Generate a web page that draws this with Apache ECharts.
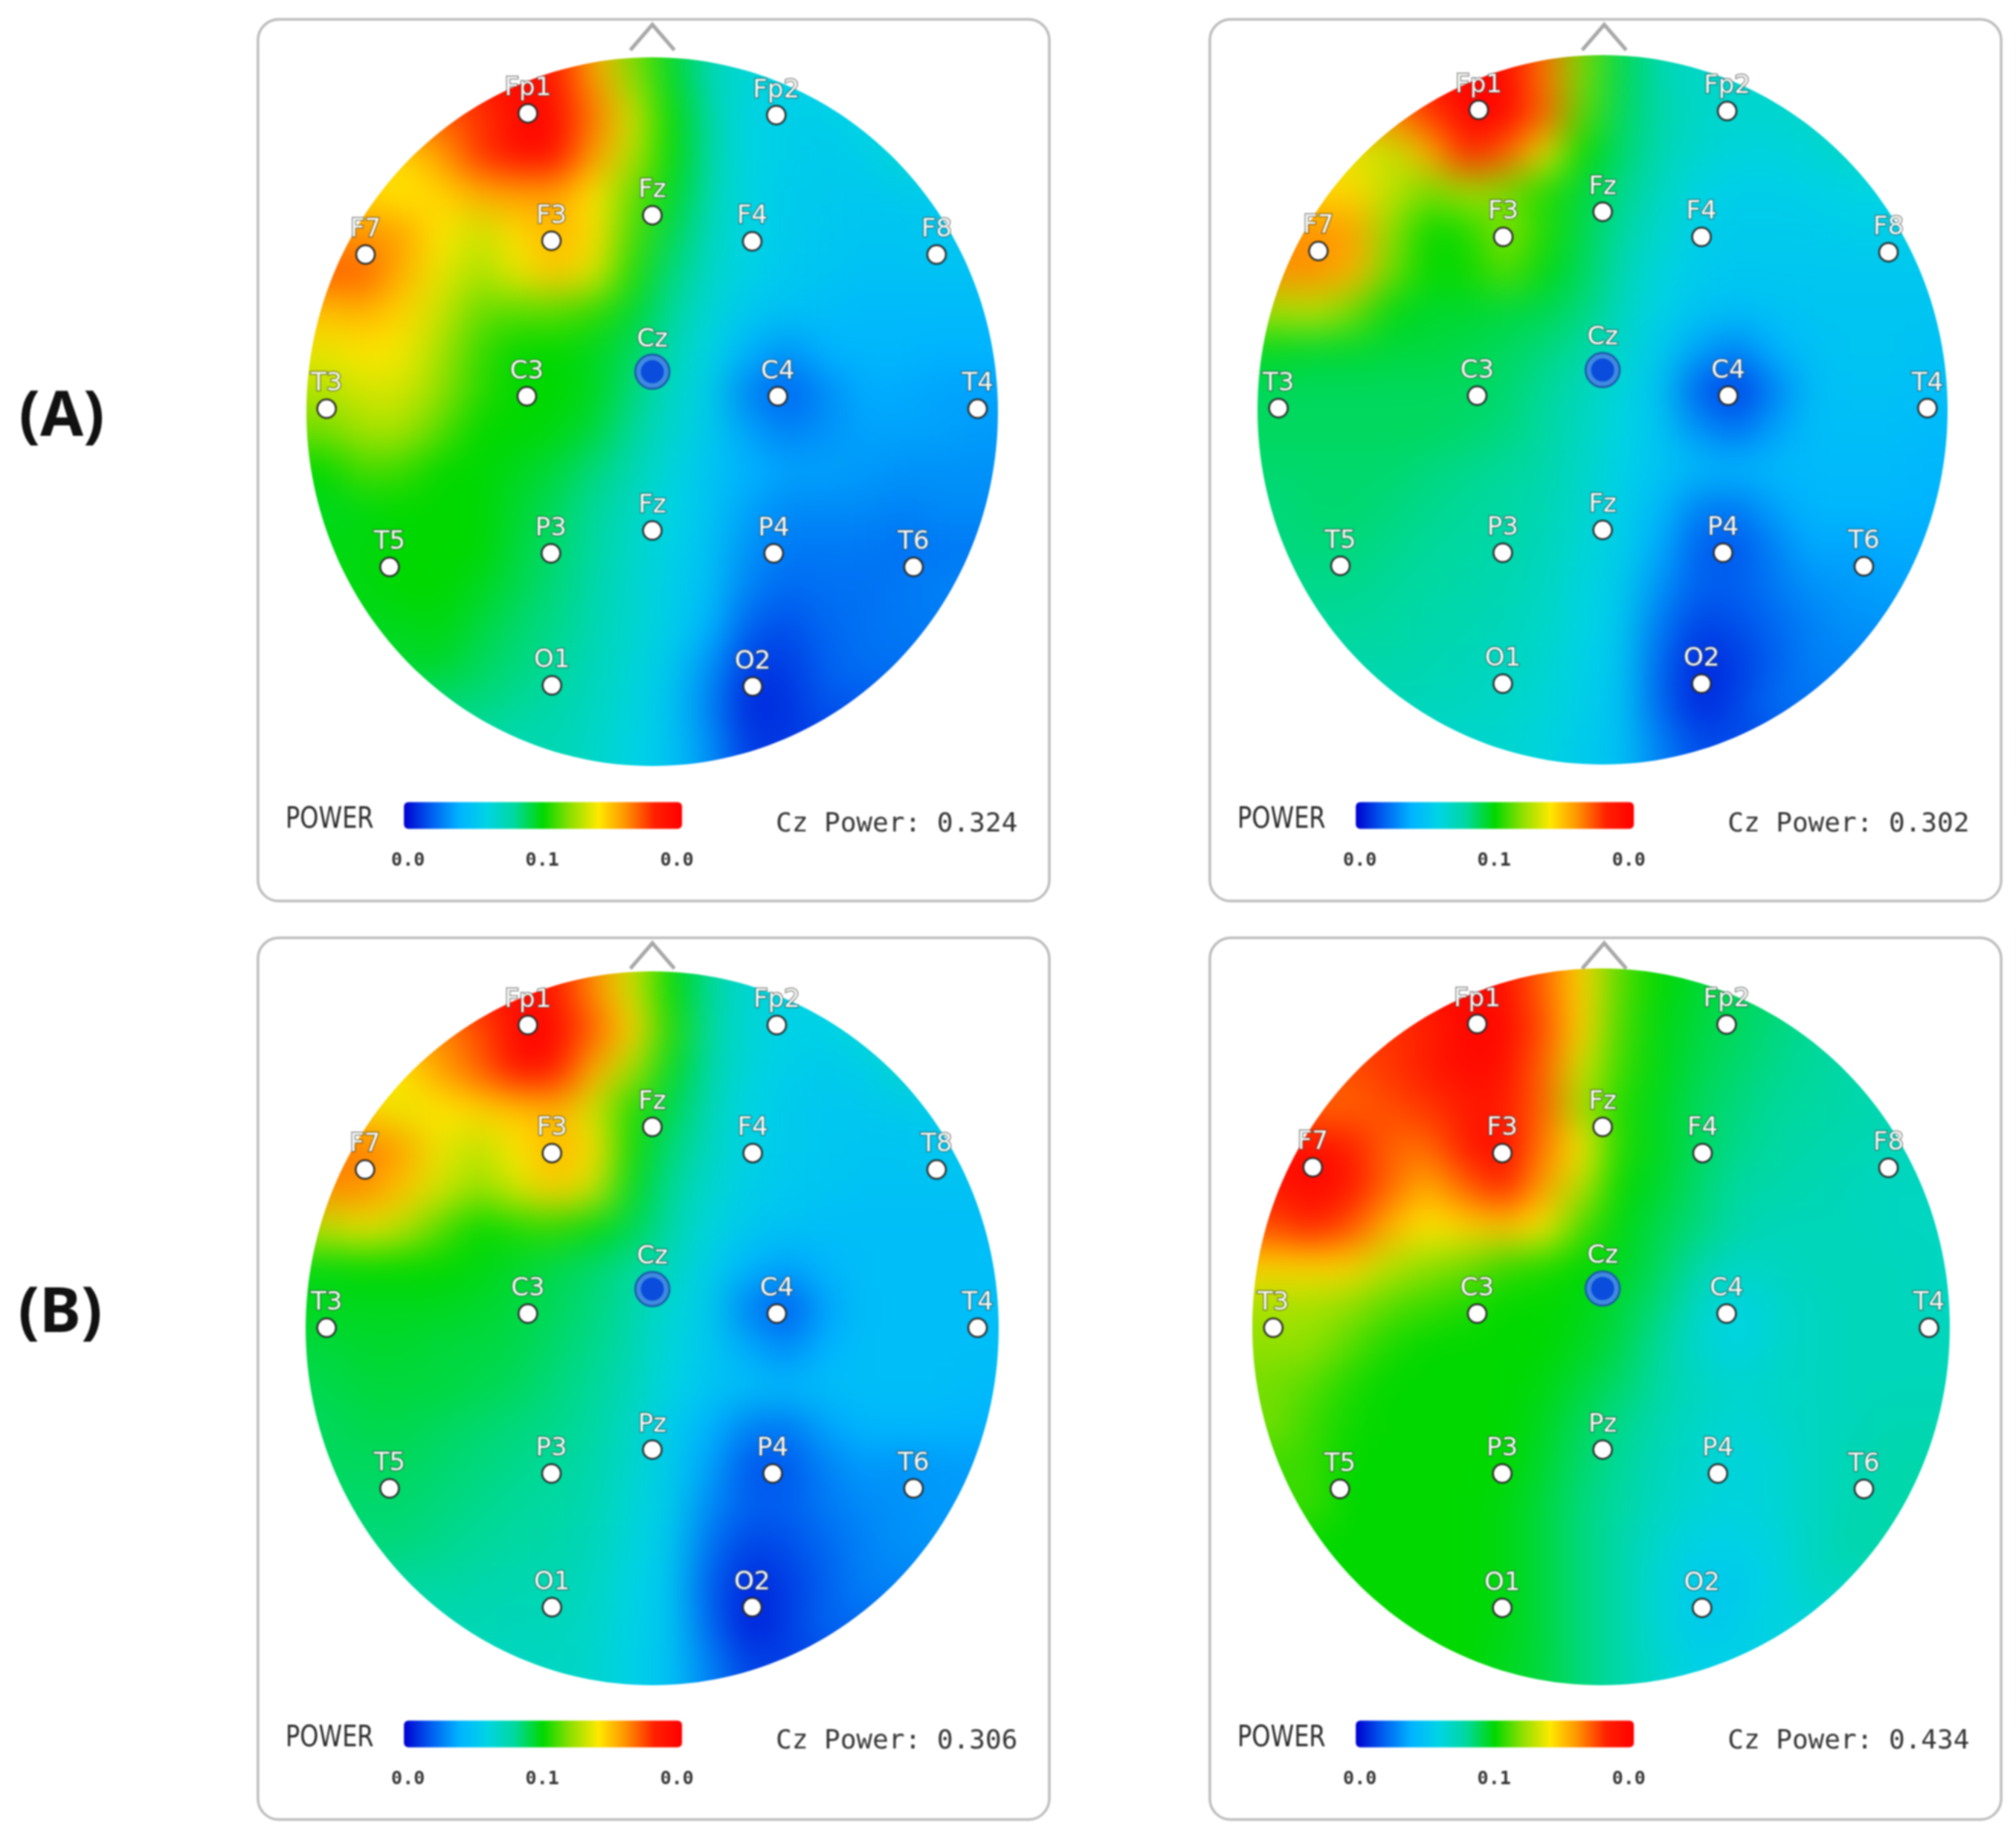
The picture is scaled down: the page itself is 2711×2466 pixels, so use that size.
<!DOCTYPE html>
<html><head><meta charset="utf-8">
<script src="https://cdn.jsdelivr.net/npm/echarts@6/dist/echarts.min.js"></script>
<style>
html,body{margin:0;padding:0;background:#fff;width:2711px;height:2466px;overflow:hidden}
#field,#top{position:absolute;left:0;top:0;width:2711px;height:2466px}
#field{filter:blur(25px);clip-path:inset(40px 0 0 0)}
#top{filter:blur(0.8px)}
</style></head><body>
<div id="field"></div><div id="top"></div>
<script>
const _ = null;
// Power level on a 20x20 sampling of each head (0 = blue end, 100 = red end of the bar)
const powerTopLeft = [
[_,_,_,_,_,_,94,90,75,58,48,36,32,30,_,_,_,_,_,_],
[_,_,_,_,_,92,98,92,78,60,48,36,32,30,30,30,_,_,_,_],
[_,_,_,_,84,88,97,97,82,66,50,38,30,28,28,30,32,_,_,_],
[_,_,_,72,78,88,97,96,78,64,50,38,30,28,27,28,32,32,_,_],
[_,_,72,70,72,76,78,78,70,57,48,37,30,27,27,26,27,27,27,_],
[_,80,80,78,70,65,71,76,71,55,45,35,30,27,26,25,25,26,26,_],
[84,84,84,76,68,62,68,74,67,52,42,34,29,26,25,24,24,24,24,24],
[74,74,76,72,65,57,56,56,53,47,40,32,26,24,23,22,22,22,22,22],
[68,68,70,69,62,54,50,50,48,44,37,30,20,16,20,21,21,20,20,20],
[63,63,66,66,60,53,50,50,48,42,34,28,14,10,15,19,19,18,18,18],
[58,58,62,62,56,50,50,49,46,40,33,27,18,14,16,18,18,18,17,17],
[50,50,55,54,50,50,48,46,42,37,31,25,20,18,18,17,16,16,16,16],
[48,48,49,50,50,50,47,44,40,35,30,25,18,15,15,15,14,15,15,15],
[_,49,49,50,50,50,46,43,39,34,29,24,16,13,13,13,12,13,13,_],
[_,49,49,50,50,48,45,42,38,33,28,23,14,11,12,12,13,14,14,_],
[_,_,48,48,49,46,43,41,37,33,28,20,10,8,11,12,13,13,_,_],
[_,_,_,47,47,44,42,40,36,32,26,16,6,6,10,12,12,_,_,_],
[_,_,_,_,42,42,40,38,35,31,25,14,4,5,9,9,_,_,_,_],
[_,_,_,_,_,_,37,37,34,30,25,16,6,6,_,_,_,_,_,_],
[_,_,_,_,_,_,_,37,34,30,25,16,6,_,_,_,_,_,_,_]];
const powerTopRight = [
[_,_,_,_,_,_,96,96,84,58,45,37,34,33,_,_,_,_,_,_],
[_,_,_,_,_,92,98,97,82,58,45,37,34,33,33,33,_,_,_,_],
[_,_,_,_,80,88,99,99,84,56,44,38,34,33,33,34,34,_,_,_],
[_,_,_,68,64,76,90,84,68,50,43,37,33,31,31,32,34,34,_,_],
[_,_,72,72,64,58,62,58,52,46,41,35,30,28,28,29,30,30,30,_],
[_,80,80,78,60,50,52,60,52,45,39,33,28,27,27,27,28,28,28,_],
[80,80,80,76,58,50,51,56,49,44,37,31,27,26,26,26,26,26,26,26],
[64,62,64,58,49,47,47,46,45,42,35,29,25,23,24,25,25,25,25,25],
[48,48,47,47,46,46,45,44,42,39,33,27,18,14,20,24,25,25,24,24],
[44,44,44,44,44,44,44,43,40,36,31,25,10,6,14,23,24,24,23,23],
[44,44,44,44,44,44,43,42,39,35,30,25,16,12,18,23,23,23,22,22],
[43,43,43,43,43,42,41,40,38,34,29,25,22,21,22,22,22,22,21,21],
[42,42,43,43,42,41,40,39,37,33,28,22,14,13,18,21,21,21,20,20],
[_,42,42,42,41,40,39,38,36,32,28,19,10,9,14,19,18,19,19,_],
[_,41,41,41,40,39,38,37,35,31,27,16,10,10,13,16,17,18,18,_],
[_,_,40,40,39,38,37,36,34,30,26,13,7,8,11,14,16,16,_,_],
[_,_,_,38,38,37,36,35,33,29,25,11,4,6,10,14,14,_,_,_],
[_,_,_,_,36,36,35,34,32,28,24,11,4,7,12,12,_,_,_,_],
[_,_,_,_,_,_,33,33,31,27,24,14,8,8,_,_,_,_,_,_],
[_,_,_,_,_,_,_,33,31,27,24,14,8,_,_,_,_,_,_,_]];
const powerBottomLeft = [
[_,_,_,_,_,_,94,92,80,66,50,40,32,30,_,_,_,_,_,_],
[_,_,_,_,_,90,96,92,80,66,50,40,32,30,30,30,_,_,_,_],
[_,_,_,_,80,86,98,98,84,72,52,39,32,29,29,32,32,_,_,_],
[_,_,_,70,78,84,96,92,76,62,48,38,31,28,27,28,33,33,_,_],
[_,_,72,68,70,72,74,76,66,52,45,36,30,27,26,26,27,27,27,_],
[_,82,82,78,68,64,70,76,71,51,42,35,29,27,26,25,25,26,26,_],
[80,80,80,74,66,60,66,73,65,48,40,33,28,26,25,24,24,24,24,24],
[64,64,68,64,56,50,52,53,49,45,38,31,26,24,23,23,23,23,23,23],
[49,49,50,50,50,49,47,45,43,40,35,28,20,18,21,23,23,23,23,23],
[48,48,48,48,48,47,46,44,42,38,32,27,14,9,18,23,23,23,23,23],
[46,46,47,47,46,46,45,43,41,37,31,26,19,15,20,23,23,23,23,23],
[45,45,46,46,46,45,44,42,40,36,30,25,23,22,23,23,23,23,22,22],
[44,44,45,45,44,43,42,41,39,34,27,20,14,13,18,21,21,21,20,20],
[_,44,44,44,43,42,41,40,38,33,27,18,9,9,14,17,16,17,17,_],
[_,43,43,43,42,41,40,39,37,32,27,15,10,10,13,15,16,17,17,_],
[_,_,42,42,41,40,39,38,36,31,26,12,7,8,11,14,16,16,_,_],
[_,_,_,39,39,38,37,37,35,30,25,10,4,6,10,14,14,_,_,_],
[_,_,_,_,37,37,36,36,34,29,25,11,3,6,11,11,_,_,_,_],
[_,_,_,_,_,_,35,35,33,29,24,14,7,7,_,_,_,_,_,_],
[_,_,_,_,_,_,_,35,33,29,24,14,7,_,_,_,_,_,_,_]];
const powerBottomRight = [
[_,_,_,_,_,_,97,96,84,72,56,50,47,44,_,_,_,_,_,_],
[_,_,_,_,_,94,98,96,84,72,56,50,47,44,43,42,_,_,_,_],
[_,_,_,_,88,90,98,98,86,72,55,49,46,44,42,40,40,_,_,_],
[_,_,_,86,88,92,97,96,84,66,54,49,45,43,41,40,38,38,_,_],
[_,_,84,84,86,88,92,92,84,62,52,48,44,42,40,39,38,37,37,_],
[_,96,96,92,84,83,92,98,82,70,52,48,44,41,39,38,37,36,36,_],
[92,92,98,94,84,76,84,90,78,64,50,47,43,39,38,37,36,35,35,35],
[86,86,90,86,76,70,72,74,70,55,49,45,42,38,36,36,36,35,35,35],
[72,72,72,72,64,60,58,54,52,50,48,44,38,34,35,36,36,36,35,35],
[62,62,62,60,56,54,52,50,50,49,46,42,34,30,33,35,36,36,35,35],
[60,60,60,56,52,50,50,50,50,48,45,40,33,30,33,35,36,36,36,36],
[58,58,56,52,50,50,50,50,49,46,43,39,35,33,34,35,36,36,36,36],
[58,58,54,51,50,50,50,50,48,44,41,37,34,32,33,35,36,37,37,37],
[_,54,54,50,50,50,50,50,47,43,40,36,33,31,32,35,37,38,38,_],
[_,54,54,50,50,50,50,49,46,42,39,35,32,31,32,35,37,38,38,_],
[_,_,50,50,50,50,50,49,46,42,38,33,29,29,31,35,38,38,_,_],
[_,_,_,50,50,50,50,49,46,42,38,32,27,27,30,35,35,_,_,_],
[_,_,_,_,50,50,50,49,46,42,38,32,27,28,31,31,_,_,_,_],
[_,_,_,_,_,_,50,48,46,42,38,33,29,29,_,_,_,_,_,_],
[_,_,_,_,_,_,_,48,46,42,38,33,29,_,_,_,_,_,_,_]];

const barColors = ['#0000d0','#0060f0','#00b4ff','#00d4e4','#00d89c','#00d800','#90e000','#ffe800','#ff9000','#ff2000','#ff0000'];
const tickLabels = ['0.0','0.1','0.0'];
const czPower = ['Cz Power: 0.324','Cz Power: 0.302','Cz Power: 0.306','Cz Power: 0.434'];
const groupNames = ['(A)','(B)'];

const namesTopLeft     = ['Fp1','Fp2','F7','F3','Fz','F4','F8','T3','C3','C4','T4','T5','P3','Fz','P4','T6','O1','O2'];
const namesTopRight    = namesTopLeft;
const namesBottomLeft  = ['Fp1','Fp2','F7','F3','Fz','F4','T8','T3','C3','C4','T4','T5','P3','Pz','P4','T6','O1','O2'];
const namesBottomRight = ['Fp1','Fp2','F7','F3','Fz','F4','F8','T3','C3','C4','T4','T5','P3','Pz','P4','T6','O1','O2'];
// electrode places, read in each panel's own 0-1568 frame
const siteXTopLeft  = [537,1022,220,583,780,975,1335,144,535,1025,1415,267,582,780,1017,1290,584,976];
const siteYTopLeft  = [173,176,421,397,352,398,421,692,670,670,692,970,946,906,946,970,1178,1180];
const siteXTopRight = [535,1020,222,583,777,970,1335,144,532,1022,1411,265,582,777,1012,1287,582,970];
const siteYTopRight = [167,169,415,390,346,390,417,691,669,669,691,968,945,905,945,969,1175,1175];
const siteXBottomLeft = [537,1023,219,584,780,976,1335,144,537,1023,1415,267,583,780,1015,1290,584,975];
const siteYBottomLeft = [161,161,415,386,340,386,415,693,668,668,693,975,949,907,949,975,1184,1184];
const siteXBottomRight = [532,1019,211,581,777,972,1335,134,532,1019,1414,264,581,777,1002,1287,581,971];
const siteYBottomRight = [159,160,411,386,340,386,412,693,668,668,693,976,949,907,949,976,1185,1185];
const czX = [780,777,780,777];
const czY = [627,624,625,624];

const panels = [
 {left:340, top:20,  cx:877,  cy:553.5,rx:465,ry:476.5,power:powerTopLeft,    names:namesTopLeft,    xs:siteXTopLeft,    ys:siteYTopLeft},
 {left:1620,top:20,  cx:2155, cy:551,  rx:464,ry:477,  power:powerTopRight,   names:namesTopRight,   xs:siteXTopRight,   ys:siteYTopRight},
 {left:340, top:1255,cx:877,  cy:1786, rx:466,ry:480,  power:powerBottomLeft, names:namesBottomLeft, xs:siteXBottomLeft, ys:siteYBottomLeft},
 {left:1620,top:1255,cx:2153, cy:1784, rx:469,ry:482,  power:powerBottomRight,names:namesBottomRight,xs:siteXBottomRight,ys:siteYBottomRight}
];
const SX = 1080/1568, SY = 1200/1568;

// ---------- blurred colour field ----------
const idx = Array.from({length:20},(_v,i)=>i);
const fieldOpt = {animation:false,grid:[],xAxis:[],yAxis:[],series:[],
  visualMap:{show:false,min:0,max:100,seriesIndex:[0,1,2,3],inRange:{color:barColors}}};
panels.forEach((p,k)=>{
  fieldOpt.grid.push({left:p.cx-p.rx*20/18,top:p.cy-p.ry*20/18,width:p.rx*40/18,height:p.ry*40/18});
  fieldOpt.xAxis.push({type:'category',data:idx,gridIndex:k,show:false});
  fieldOpt.yAxis.push({type:'category',data:idx,gridIndex:k,show:false,inverse:true});
  const d=[];
  p.power.forEach((row,j)=>{
    // cells outside the head carry the nearest read value of the row; the mask hides them
    const filled=row.map((v,i)=>{
      if(v!==null) return v;
      for(let s=1;s<20;s++){ if(row[i+s]!=null) return row[i+s]; if(row[i-s]!=null) return row[i-s]; }
      return null;
    });
    filled.forEach((v,i)=>d.push([i,j,v]));
  });
  fieldOpt.series.push({type:'heatmap',xAxisIndex:k,yAxisIndex:k,data:d,silent:true,progressive:0,itemStyle:{borderWidth:0}});
});
echarts.init(document.getElementById('field')).setOption(fieldOpt);

// ---------- everything on top ----------
const gfx = [];
const topOpt = {animation:false,grid:[],xAxis:[],yAxis:[],series:[],graphic:{elements:gfx}};
const siteLabel = {show:true,position:'inside',formatter:'{b}',fontFamily:'DejaVu Sans',fontSize:34,
  color:'#f6faf6',textBorderColor:'rgba(70,70,70,0.7)',textBorderWidth:2.5};
panels.forEach((p,k)=>{
  const X=z=>p.left+z*SX, Y=z=>p.top+z*SY;
  topOpt.grid.push({left:p.left,top:p.top,width:1080,height:1200});
  topOpt.xAxis.push({type:'value',min:0,max:1568,gridIndex:k,show:false});
  topOpt.yAxis.push({type:'value',min:0,max:1568,gridIndex:k,show:false,inverse:true});
  topOpt.series.push({type:'scatter',xAxisIndex:k,yAxisIndex:k,silent:true,z:5,symbolSize:25,
    itemStyle:{color:'#fff',borderColor:'#2b2b2b',borderWidth:2.5,opacity:1},
    label:Object.assign({offset:[0,-33]},siteLabel),
    data:p.names.map((n,i)=>({name:n,value:[p.xs[i],p.ys[i]]}))});
  topOpt.series.push({type:'scatter',xAxisIndex:k,yAxisIndex:k,silent:true,z:5,symbolSize:46,
    itemStyle:{color:'#3f8ae0',borderColor:'#1b55a8',borderWidth:2.5,opacity:1},
    label:Object.assign({offset:[0,-43]},siteLabel),
    data:[{name:'Cz',value:[czX[k],czY[k]]}]});
  topOpt.series.push({type:'scatter',xAxisIndex:k,yAxisIndex:k,silent:true,z:6,symbolSize:31,
    itemStyle:{color:'#0a4cdc',opacity:1},data:[[czX[k],czY[k]]]});

  // white mask with the head cut out, so the field ends on the head outline
  const x0=p.left-80,y0=p.top-70,x1=p.left+1160,y1=p.top+1245;
  const pts=[[x0,p.cy],[x0,y0],[x1,y0],[x1,y1],[x0,y1],[x0,p.cy]];
  for(let a=0;a<=360;a+=1.5){const t=a*Math.PI/180; pts.push([p.cx-p.rx*Math.cos(t),p.cy+p.ry*Math.sin(t)]);}
  gfx.push({type:'polygon',z:1,silent:true,shape:{points:pts},style:{fill:'#fff'}});

  gfx.push({type:'rect',z:2,silent:true,shape:{x:X(10),y:Y(8),width:(1555-10)*SX,height:1549*SY,r:28},
    style:{fill:'none',stroke:'#bdbdbd',lineWidth:3.5}});
  gfx.push({type:'polyline',z:2,silent:true,shape:{points:[[X(737),Y(62)],[X(780),Y(17)],[X(823),Y(62)]]},
    style:{fill:'none',stroke:'#a8a8a8',lineWidth:5}});
  gfx.push({type:'rect',z:3,silent:true,shape:{x:X(295),y:Y(1383),width:543*SX,height:47*SY,r:6},
    style:{fill:new echarts.graphic.LinearGradient(0,0,1,0,barColors.map((c,i)=>({offset:i/(barColors.length-1),color:c})))}});
  gfx.push({type:'text',z:3,silent:true,x:X(150),y:Y(1415),scaleY:1.2,style:{text:'POWER',fontFamily:'DejaVu Sans',fontSize:32,fill:'#2b2b2b',align:'center',verticalAlign:'middle'}});
  gfx.push({type:'text',z:3,silent:true,x:X(1257),y:Y(k<2?1423:1420),style:{text:czPower[k],fontFamily:'DejaVu Sans Mono',fontSize:36,fill:'#333',align:'center',verticalAlign:'middle'}});
  [303,565,828].forEach((zx,i)=>gfx.push({type:'text',z:3,silent:true,x:X(zx),y:Y(1486),
    style:{text:tickLabels[i],fontFamily:'DejaVu Sans Mono',fontWeight:'bold',fontSize:25,fill:'#333',align:'center',verticalAlign:'middle'}}));
});
gfx.push({type:'text',z:3,silent:true,x:83,y:562,style:{text:groupNames[0],fontFamily:'Noto Sans',fontWeight:'bold',fontSize:84,fill:'#111',align:'center',verticalAlign:'middle'}});
gfx.push({type:'text',z:3,silent:true,x:81,y:1767,style:{text:groupNames[1],fontFamily:'Noto Sans',fontWeight:'bold',fontSize:84,fill:'#111',align:'center',verticalAlign:'middle'}});
echarts.init(document.getElementById('top')).setOption(topOpt);
</script>
</body></html>
